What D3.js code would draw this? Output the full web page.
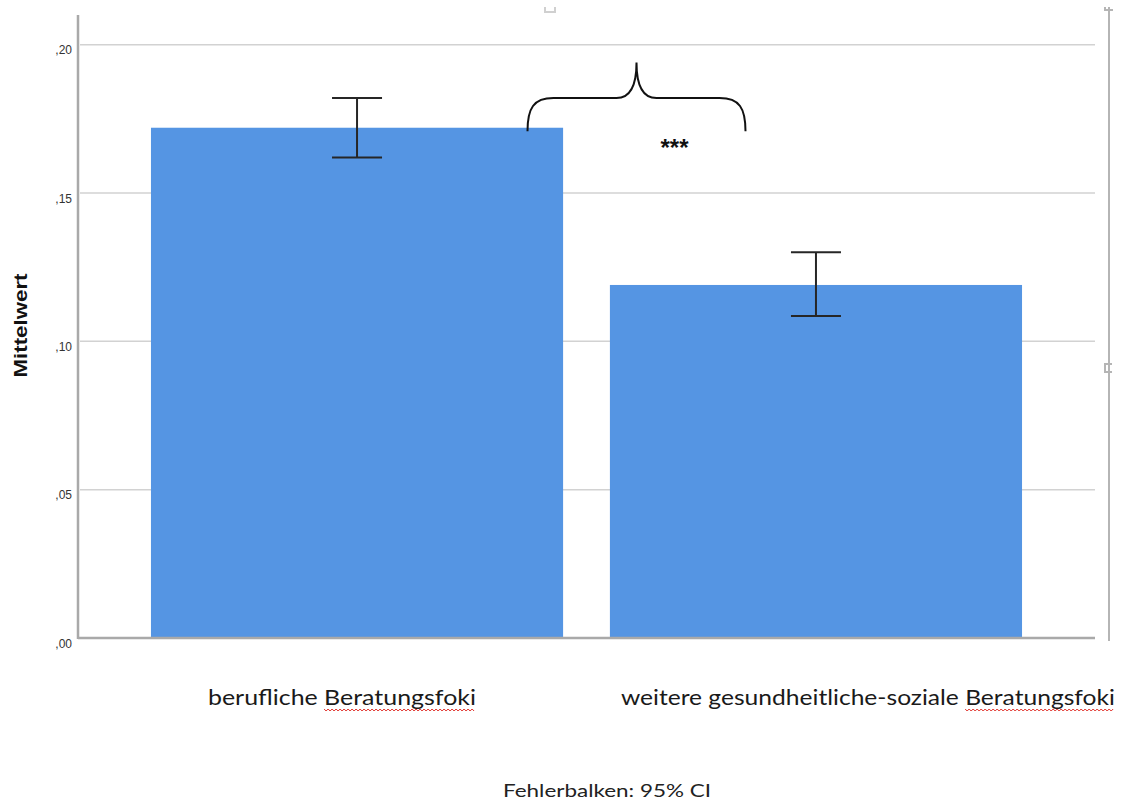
<!DOCTYPE html>
<html>
<head>
<meta charset="utf-8">
<script src="https://cdn.jsdelivr.net/npm/d3@7"></script>
<style>
  html, body { margin: 0; padding: 0; background: #fff; }
  svg { display: block; }
</style>
</head>
<body>
<div id="chart"></div>
<script>
// ---- Data ----
const categories = ["berufliche Beratungsfoki", "weitere gesundheitliche-soziale Beratungsfoki"];
const means = [0.172, 0.119];
const ciLow = [0.162, 0.1085];
const ciHigh = [0.182, 0.130];
const yTicks = [0, 0.05, 0.10, 0.15, 0.20];
const yLabel = "Mittelwert";
const footnote = "Fehlerbalken: 95% CI";
const sigLabel = "***";

// ---- Layout ----
const W = 1132, H = 802;
const plot = { left: 78, right: 1095, top: 15, bottom: 638 };
const barColor = "#5595e3";
const labelFont = "Lato, 'Open Sans', sans-serif";
// where the category labels start, relative to the bar's left edge, and how wide they run
const labelLayout = [{ dx: 57, len: 268 }, { dx: 11, len: 494 }];

const svg = d3.select("#chart").append("svg")
    .attr("width", W)
    .attr("height", H);

const x = d3.scaleBand()
    .domain(categories)
    .range([plot.left, plot.right])
    .paddingInner(0.102)
    .paddingOuter(0.159);

const y = d3.scaleLinear()
    .domain([0, 0.21])
    .range([plot.bottom, plot.top]);

// gridlines
svg.append("g")
  .selectAll("line")
  .data(yTicks.filter(d => d > 0))
  .join("line")
    .attr("x1", plot.left + 2)
    .attr("x2", plot.right)
    .attr("y1", d => y(d))
    .attr("y2", d => y(d))
    .attr("stroke", "#d2d2d2")
    .attr("stroke-width", 1.5);

// y axis tick labels
const yAxis = d3.axisLeft(y)
    .tickValues(yTicks)
    .tickSize(0)
    .tickPadding(6)
    .tickFormat(d => d3.format(".2f")(d).replace("0.", ","));

const yAxisG = svg.append("g")
    .attr("transform", `translate(${plot.left},0)`)
    .call(yAxis);
yAxisG.select(".domain").remove();
yAxisG.selectAll("text")
    .attr("dy", "0.75em")
    .attr("font-family", "'Liberation Sans', Arial, sans-serif")
    .attr("font-size", 12)
    .attr("fill", "#333");

// bars
svg.append("g")
  .selectAll("rect")
  .data(categories)
  .join("rect")
    .attr("x", d => x(d))
    .attr("y", (d, i) => y(means[i]))
    .attr("width", x.bandwidth())
    .attr("height", (d, i) => y(0) - y(means[i]))
    .attr("fill", barColor);

// axis lines
svg.append("line")
    .attr("x1", plot.left).attr("x2", plot.left)
    .attr("y1", y(0.21)).attr("y2", y(0) + 1)
    .attr("stroke", "#a9a9a9").attr("stroke-width", 2.5);
svg.append("line")
    .attr("x1", plot.left).attr("x2", plot.right)
    .attr("y1", y(0)).attr("y2", y(0))
    .attr("stroke", "#a9a9a9").attr("stroke-width", 2.5);

// error bars
const capHalf = 25;
const eb = svg.append("g")
    .attr("stroke", "#262626")
    .attr("stroke-width", 2);
categories.forEach((c, i) => {
  const cx = x(c) + x.bandwidth() / 2;
  eb.append("line").attr("x1", cx).attr("x2", cx).attr("y1", y(ciHigh[i])).attr("y2", y(ciLow[i]));
  eb.append("line").attr("x1", cx - capHalf).attr("x2", cx + capHalf).attr("y1", y(ciHigh[i])).attr("y2", y(ciHigh[i]));
  eb.append("line").attr("x1", cx - capHalf).attr("x2", cx + capHalf).attr("y1", y(ciLow[i])).attr("y2", y(ciLow[i]));
});

// significance brace
const gapMid = (x(categories[0]) + x.bandwidth() + x(categories[1])) / 2;
const bc = gapMid + 50;            // brace tip
const bl = bc - 109, br = bc + 109; // brace ends
const yEnd = y(0.1708), yBar = y(0.182), yTip = y(0.194);
const brace = d3.path();
brace.moveTo(bl, yEnd);
brace.bezierCurveTo(bl, yBar + 10, bl + 6, yBar, bl + 26, yBar);
brace.lineTo(bc - 20, yBar);
brace.bezierCurveTo(bc - 6, yBar, bc, yBar - 14, bc, yTip);
brace.bezierCurveTo(bc, yBar - 14, bc + 6, yBar, bc + 20, yBar);
brace.lineTo(br - 26, yBar);
brace.bezierCurveTo(br - 6, yBar, br, yBar + 10, br, yEnd);
svg.append("path")
    .attr("d", brace.toString())
    .attr("fill", "none")
    .attr("stroke", "#111")
    .attr("stroke-width", 2);

svg.append("text")
    .attr("x", bc + 38)
    .attr("y", y(0.1625))
    .attr("text-anchor", "middle")
    .attr("font-family", "'Liberation Sans', Arial, sans-serif")
    .attr("font-weight", "bold")
    .attr("font-size", 24)
    .attr("fill", "#111")
    .text(sigLabel);

// category labels with spell-check squiggle under the last word
categories.forEach((c, i) => {
  const t = svg.append("text")
      .attr("x", x(c) + labelLayout[i].dx)
      .attr("y", 705)
      .attr("font-family", labelFont)
      .attr("font-size", 21)
      .attr("fill", "#1a1a1a")
      .attr("textLength", labelLayout[i].len)
      .attr("lengthAdjust", "spacingAndGlyphs")
      .text(c);
  const node = t.node();
  const start = c.lastIndexOf(" ") + 1;
  const x0 = node.getStartPositionOfChar(start).x;
  const x1 = node.getEndPositionOfChar(c.length - 1).x;
  const sq = d3.path();
  const yy = 709;
  sq.moveTo(x0, yy);
  let k = 0;
  for (let px = x0 + 2; px <= x1; px += 2) {
    sq.lineTo(px, yy + (k % 2 === 0 ? 2 : 0));
    k++;
  }
  svg.append("path")
      .attr("d", sq.toString())
      .attr("fill", "none")
      .attr("stroke", "#e0302a")
      .attr("stroke-width", 1);
});

// y axis title
svg.append("text")
    .attr("transform", `translate(27, ${(273 + 378) / 2}) rotate(-90)`)
    .attr("text-anchor", "middle")
    .attr("font-family", "'Liberation Sans', Arial, sans-serif")
    .attr("font-weight", "bold")
    .attr("font-size", 18)
    .attr("textLength", 104)
    .attr("lengthAdjust", "spacingAndGlyphs")
    .attr("fill", "#111")
    .text(yLabel);

// footnote
svg.append("text")
    .attr("x", (503 + 711) / 2)
    .attr("y", 797)
    .attr("text-anchor", "middle")
    .attr("font-family", labelFont)
    .attr("font-size", 18)
    .attr("textLength", 208)
    .attr("lengthAdjust", "spacingAndGlyphs")
    .attr("fill", "#222")
    .text(footnote);

// frame handles left over from the editor selection
const handle = svg.append("g")
    .attr("fill", "none")
    .attr("stroke", "#b5b5b5")
    .attr("stroke-width", 2);
handle.append("line").attr("x1", 1109).attr("x2", 1109).attr("y1", 7).attr("y2", 641);
handle.append("path").attr("d", "M1105,7 L1105,10 L1113,10");
handle.append("path").attr("d", "M1112,364 L1105,364 L1105,372 L1112,372");
handle.append("path")
    .attr("stroke", "#d0d0d0")
    .attr("d", "M545,7 L545,12 L555,12 L555,7");
</script>
</body>
</html>
